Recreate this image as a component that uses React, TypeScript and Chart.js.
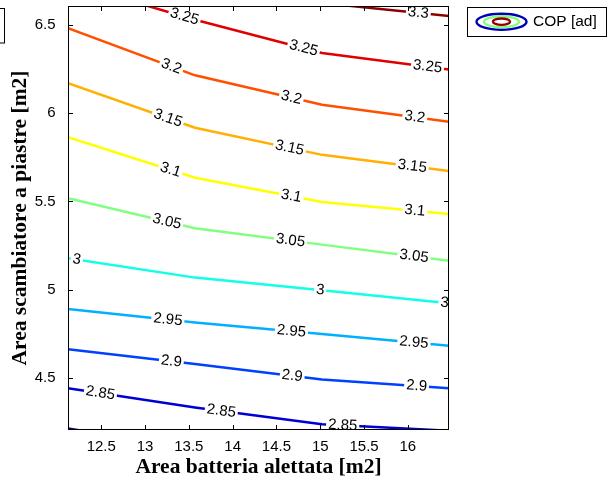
import React, { useEffect, useRef } from "react";
import { Chart, registerables } from "chart.js";

Chart.register(...registerables);

// ---- data ----
const xGrid = [12.12, 13.57, 15.02, 16.47];
const levels = [2.8, 2.85, 2.9, 2.95, 3.0, 3.05, 3.1, 3.15, 3.2, 3.25, 3.3];
const c280 = [4.212, 4.1, 4.0, 3.95];
const c285 = [4.441, 4.331, 4.236, 4.2];
const c290 = [4.662, 4.578, 4.491, 4.441];
const c295 = [4.89, 4.813, 4.748, 4.682];
const c300 = [5.178, 5.068, 4.997, 4.923];
const c305 = [5.518, 5.348, 5.255, 5.164];
const c310 = [5.864, 5.634, 5.497, 5.429];
const c315 = [6.17, 5.918, 5.764, 5.673];
const c320 = [6.483, 6.215, 6.048, 5.952];
const c325 = [6.74, 6.53, 6.342, 6.248];
const c330 = [6.95, 6.8, 6.625, 6.551];
const contourYs = [c280, c285, c290, c295, c300, c305, c310, c315, c320, c325, c330];
const levelColors = [
  "#00009c", "#0000d2", "#0040ff", "#00b0ff", "#10ffe6", "#80ff80",
  "#ffff00", "#ffb000", "#ff5000", "#e00000", "#8c0000",
];

const labelLevels = [3.3, 3.25, 3.25, 3.25, 3.2, 3.2, 3.2, 3.15, 3.15, 3.15, 3.1, 3.1, 3.1,
  3.05, 3.05, 3.05, 3.0, 3.0, 3.0, 2.95, 2.95, 2.95, 2.9, 2.9, 2.9, 2.85, 2.85, 2.85];
const labelXs = [16.12, 13.45, 14.81, 16.225, 13.3, 14.67, 16.08, 13.26, 14.65, 16.05, 13.29, 14.67, 16.08,
  13.25, 14.66, 16.07, 12.22, 15.0, 16.42, 13.26, 14.67, 16.07, 13.3, 14.68, 16.1, 12.49, 13.87, 15.256];

const xTicks = [12.5, 13, 13.5, 14, 14.5, 15, 15.5, 16];
const yTicks = [4.5, 5, 5.5, 6, 6.5];
const xRange = [12.12, 16.47];
const yRange = [4.204, 6.608];
const xTitle = "Area batteria alettata [m2]";
const yTitle = "Area scambiatore a piastre [m2]";
const legendLabel = "COP [ad]";

const SANS = "'Liberation Sans', Arial, sans-serif";
const SERIF = "'Liberation Serif', 'Times New Roman', serif";

function fmt(v: number) {
  return String(Math.round(v * 100) / 100);
}

const contourPlugin = {
  id: "contourDecor",
  afterDatasetsDraw(chart: any) {
    const { ctx, chartArea: a, scales } = chart;
    const xs = scales.x, ys = scales.y;
    ctx.save();
    ctx.beginPath();
    ctx.rect(a.left - 4, a.top, a.right - a.left + 6, a.bottom - a.top);
    ctx.clip();
    ctx.font = `15px ${SANS}`;
    ctx.textAlign = "center";
    ctx.textBaseline = "middle";
    labelLevels.forEach((lv, i) => {
      const li = levels.findIndex((l) => Math.abs(l - lv) < 1e-6);
      const yv = contourYs[li];
      const pts = xGrid.map((x, k) => ({ x: xs.getPixelForValue(x), y: ys.getPixelForValue(yv[k]) }));
      const px = xs.getPixelForValue(labelXs[i]);
      let k = 0;
      while (k < pts.length - 2 && px > pts[k + 1].x) k++;
      const p0 = pts[k], p1 = pts[k + 1];
      const t = (px - p0.x) / (p1.x - p0.x);
      const py = p0.y + t * (p1.y - p0.y);
      const ang = Math.atan2(p1.y - p0.y, p1.x - p0.x);
      const txt = fmt(lv);
      const w = ctx.measureText(txt).width;
      ctx.save();
      ctx.translate(px, py);
      ctx.rotate(ang);
      ctx.fillStyle = "#ffffff";
      ctx.fillRect(-w / 2 - 2, -6.5, w + 4, 13);
      ctx.fillStyle = "#000000";
      ctx.fillText(txt, 0, 0);
      ctx.restore();
    });
    ctx.restore();
  },
  afterDraw(chart: any) {
    const { ctx, chartArea: a, scales } = chart;
    ctx.save();
    ctx.strokeStyle = "#000";
    ctx.lineWidth = 1;
    ctx.strokeRect(a.left + 0.5, a.top + 0.5, a.right - a.left - 1, a.bottom - a.top - 1);
    ctx.lineWidth = 1;
    const tl = 5;
    xTicks.forEach((v) => {
      const x = Math.round(scales.x.getPixelForValue(v)) + 0.5;
      ctx.beginPath();
      ctx.moveTo(x, a.bottom);
      ctx.lineTo(x, a.bottom - tl);
      ctx.moveTo(x, a.top);
      ctx.lineTo(x, a.top + tl);
      ctx.stroke();
    });
    yTicks.forEach((v) => {
      const y = Math.round(scales.y.getPixelForValue(v)) + 0.5;
      ctx.beginPath();
      ctx.moveTo(a.left, y);
      ctx.lineTo(a.left + tl, y);
      ctx.moveTo(a.right, y);
      ctx.lineTo(a.right - tl, y);
      ctx.stroke();
    });
    // partial box at top-left edge
    ctx.strokeRect(-10.5, 8.5, 15, 34.5);
    // legend
    const bx = 467, by = 7, bw = 139, bh = 29;
    ctx.fillStyle = "#fff";
    ctx.fillRect(bx, by, bw, bh);
    ctx.strokeRect(bx + 0.5, by + 0.5, bw, bh);
    const cx = 501.5, cy = 21.7;
    const ell = [
      [25, 8, "#0000b4"],
      [17.5, 5.5, "#80ff80"],
      [8.5, 3.2, "#960000"],
    ];
    ctx.lineWidth = 2.4;
    ell.forEach(([rx, ry, col]: any) => {
      ctx.strokeStyle = col;
      ctx.beginPath();
      ctx.ellipse(cx, cy, rx, ry, 0, 0, Math.PI * 2);
      ctx.stroke();
    });
    ctx.fillStyle = "#000";
    ctx.font = `15.5px ${SANS}`;
    ctx.textAlign = "left";
    ctx.textBaseline = "middle";
    ctx.fillText(legendLabel, 533, cy);
    ctx.restore();
  },
};

export default function App() {
  const ref = useRef<HTMLCanvasElement | null>(null);
  useEffect(() => {
    if (!ref.current) return;
    const datasets = levels.map((lv, i) => ({
      label: fmt(lv),
      data: xGrid.map((x, k) => ({ x, y: contourYs[i][k] })),
      borderColor: levelColors[i],
      backgroundColor: levelColors[i],
      borderWidth: 2.5,
      pointRadius: 0,
      tension: 0,
      fill: false,
      clip: 0,
    }));
    const chart = new Chart(ref.current, {
      type: "line",
      data: { datasets },
      options: {
        animation: false,
        responsive: false,
        maintainAspectRatio: false,
        devicePixelRatio: 1,
        layout: { padding: { left: 0, right: 162, top: 6, bottom: 0 } },
        plugins: { legend: { display: false }, tooltip: { enabled: false } },
        scales: {
          x: {
            type: "linear",
            min: xRange[0],
            max: xRange[1],
            grid: { display: false },
            border: { display: false },
            afterBuildTicks: (s: any) => {
              s.ticks = xTicks.map((v) => ({ value: v }));
            },
            afterFit: (s: any) => {
              s.height = 54;
              s.paddingLeft = 0;
              s.paddingRight = 0;
            },
            ticks: {
              color: "#000",
              font: { family: SANS, size: 15 },
              padding: 0,
              maxRotation: 0,
              autoSkip: false,
              callback: (v: any) => String(v),
            },
            title: {
              display: true,
              text: xTitle,
              color: "#000",
              font: { family: SERIF, size: 21.5, weight: "bold" },
              padding: { top: 0, bottom: 3.6 },
            },
          },
          y: {
            type: "linear",
            min: yRange[0],
            max: yRange[1],
            grid: { display: false },
            border: { display: false },
            afterBuildTicks: (s: any) => {
              s.ticks = yTicks.map((v) => ({ value: v }));
            },
            afterFit: (s: any) => {
              s.width = 68;
              s.paddingTop = 0;
              s.paddingBottom = 0;
            },
            ticks: {
              color: "#000",
              font: { family: SANS, size: 15 },
              padding: 4.5,
              autoSkip: false,
              callback: (v: any) => String(v),
            },
            title: {
              display: true,
              text: yTitle,
              color: "#000",
              font: { family: SERIF, size: 21.5, weight: "bold" },
              padding: { top: 7.8, bottom: 0 },
            },
          },
        },
      },
      plugins: [contourPlugin],
    } as any);
    return () => chart.destroy();
  }, []);
  return (
    <div style={{ position: "fixed", left: 0, top: 0, width: 611, height: 484, background: "#fff" }}>
      <canvas ref={ref} width={611} height={484} style={{ width: 611, height: 484, display: "block" }} />
    </div>
  );
}
